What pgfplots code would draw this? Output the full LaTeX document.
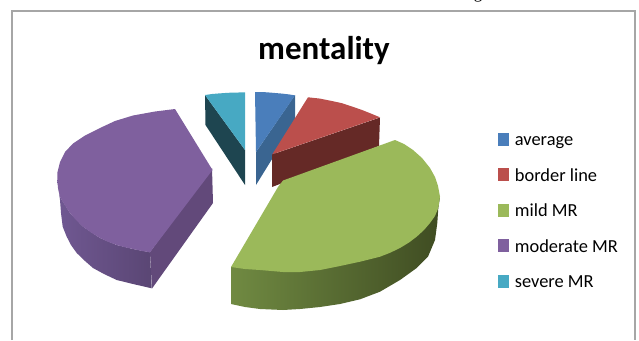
\documentclass[border=0pt]{standalone}
\usepackage{fontspec}
\setmainfont{Carlito}
\newfontfamily\serifnote{Liberation Serif}
\usepackage{pgfplots}
\pgfplotsset{compat=1.18}
% slice colours: top faces and darker sides
\definecolor{avgTop}{HTML}{4A7EBB}
\definecolor{avgSide}{HTML}{3A6591}
\definecolor{borderTop}{HTML}{BB4F4C}
\definecolor{borderSide}{HTML}{652926}
\definecolor{mildTop}{HTML}{9BB95A}
\definecolor{mildA}{HTML}{708A42}
\definecolor{mildB}{HTML}{47562A}
\definecolor{mildC}{HTML}{3F4C22}
\definecolor{modTop}{HTML}{7F609E}
\definecolor{modA}{HTML}{705892}
\definecolor{modB}{HTML}{5A4674}
\definecolor{modSide}{HTML}{62497A}
\definecolor{sevTop}{HTML}{47A9C3}
\definecolor{sevSide}{HTML}{1E4550}
\definecolor{frameGray}{HTML}{A6A6A6}
\begin{document}
\begin{tikzpicture}[x=1pt,y=1pt]
\useasboundingbox (0,0) rectangle (639,340);
\clip (0,0) rectangle (639,340);
\begin{axis}[
  at={(0,0)}, anchor=south west,
  scale only axis, width=639pt, height=340pt,
  xmin=0, xmax=639, ymin=0, ymax=340, y dir=reverse,
  hide axis, clip=false,
  legend style={draw=none, fill=none, at={(axis cs:498,132.5)}, anchor=north west,
    font=\fontsize{18.4}{20}\selectfont, row sep=0pt, inner sep=0pt,
    nodes={text height=12pt, text depth=22.6pt, inner sep=0pt, inner xsep=0pt}},
  legend cell align=left,
  legend image code/.code={\fill[#1] (0pt,6pt) rectangle (9.5pt,18pt); \path[draw=none,fill=none] (0pt,6pt) -- (16.5pt,6pt);},
]
% chart frame, open at the bottom edge
\addplot[draw=frameGray, line width=1.6pt, forget plot] coordinates {(12,340) (12,11) (635,11) (635,340)};

% average
\addplot[fill=avgSide, draw=none, forget plot] coordinates {(295,95) (295,122) (256,185) (256,152)} -- cycle;
\addplot[fill=avgTop, draw=none, forget plot] coordinates {(255,92) (262,92) (268,92.4) (275,93) (282,93.6) (289,94.4) (295,95.4) (256,152)} -- cycle;

% severe MR
\addplot[fill=sevSide, draw=none, forget plot] coordinates {(205,95) (245,150) (245,185) (205.5,125)} -- cycle;
\addplot[fill=sevTop, draw=none, forget plot] coordinates {(205,95) (212,94) (218,93.5) (225,93) (232,92.6) (245,92.4) (245,150)} -- cycle;

% moderate MR
\addplot[left color=modA, right color=modB, draw=none, forget plot] coordinates {(57.3,180) (60,197) (70,213) (83,226.7) (100,238) (116.7,245) (133,249) (150,252.3) (151.7,288.3) (133,284) (116.7,280) (104,274) (93,268) (85,261) (76.7,253) (71,245) (66.7,236.7) (62.7,226.7) (61,213) (60,200)} -- cycle;
\addplot[fill=modSide, draw=none, forget plot] coordinates {(212,168) (213,203) (152,288.5) (150,252)} -- cycle;
\addplot[fill=modTop, draw=none, forget plot] coordinates {(175,109) (155,111.5) (133,115.5) (115,121) (100,128) (85,135.5) (73,143.5) (65,152) (60,162) (57.5,172) (57.3,180) (58,188) (60,197) (65,205.5) (70,213) (76,220) (83,226.7) (91,232.5) (100,238) (108,241.8) (116.7,245) (125,247.3) (133,249) (141,250.8) (150,252.3) (212.5,170)} -- cycle;

% border line
\addplot[fill=borderSide, draw=none, forget plot] coordinates {(272,154.5) (380,117.5) (379,146) (272,187)} -- cycle;
\addplot[fill=borderTop, draw=none, forget plot] coordinates {(272.3,154.3) (308,97.3) (320,98.6) (331,100.8) (342,103.2) (352,106.5) (362,110) (372,114) (380,117.3)} -- cycle;

% mild MR
\addplot[left color=mildA, middle color=mildB, right color=mildC, draw=none, forget plot] coordinates {(231,267) (440,197) (438.3,208) (437.3,223) (435,240) (428,256.7) (416.7,268) (400,280) (380,291.7) (360,299.3) (340,304) (320,307) (300,309) (283,310) (260,309) (245,307) (231,304)} -- cycle;
\addplot[fill=mildTop, draw=none, forget plot] coordinates {(231,267) (278,187) (283,180.5) (395,140) (404,144) (413,150) (422,158) (430,168) (435,177) (438,186) (440,196.7) (438.3,208) (435,216) (430,223) (424,230) (416.7,236.7) (409,242.5) (400,248) (390,252.8) (380,256.7) (360,261.7) (340,266) (320,270) (300,272) (283,272) (260,270) (245,269)} -- cycle;

% legend entries
\addlegendimage{avgTop}\addlegendentry{average}
\addlegendimage{borderTop}\addlegendentry{border line}
\addlegendimage{mildTop}\addlegendentry{mild MR}
\addlegendimage{modTop}\addlegendentry{moderate MR}
\addlegendimage{sevTop}\addlegendentry{severe MR}

\node[font=\fontsize{33}{36}\bfseries\selectfont, anchor=base] at (axis cs:324,59) {mentality};
\node[font=\serifnote\fontsize{17}{20}\selectfont, anchor=base] at (axis cs:478,-1.5) {g};
\end{axis}
\end{tikzpicture}
\end{document}
